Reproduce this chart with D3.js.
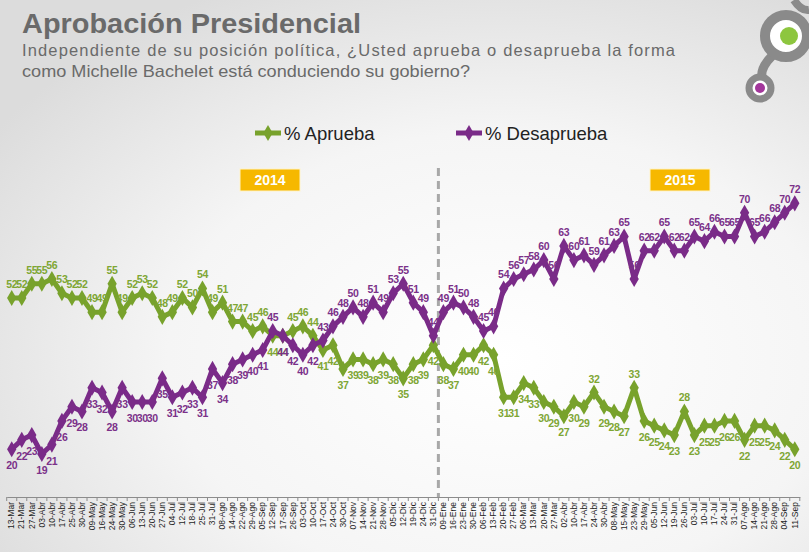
<!DOCTYPE html>
<html><head><meta charset="utf-8">
<script src="https://cdn.jsdelivr.net/npm/d3@7"></script>
<style>html,body{margin:0;padding:0;}svg{display:block;}</style>
</head><body>
<svg id="c" width="809" height="552"></svg>
<script>
const dates2014 = ["13-Mar","21-Mar","27-Mar","03-Abr","10-Abr","17-Abr","25-Abr","30-Abr","09-May","16-May","24-May","30-May","06-Jun","13-Jun","20-Jun","27-Jun","04-Jul","12-Jul","18-Jul","25-Jul","31-Jul","08-Ago","14-Ago","22-Ago","29-Ago","05-Sep","12-Sep","17-Sep","26-Sep","03-Oct","10-Oct","17-Oct","24-Oct","30-Oct","07-Nov","14-Nov","21-Nov","28-Nov","05-Dic","12-Dic","19-Dic","24-Dic","31-Dic"];
const dates2015 = ["09-Ene","16-Ene","23-Ene","30-Ene","06-Feb","13-Feb","20-Feb","27-Feb","06-Mar","13-Mar","20-Mar","27-Mar","02-Abr","10-Abr","17-Abr","24-Abr","30-Abr","08-May","15-May","23-May","29-May","05-Jun","12-Jun","19-Jun","26-Jun","03-Jul","10-Jul","17-Jul","24-Jul","31-Jul","07-Ago","14-Ago","21-Ago","28-Ago","04-Sep","11-Sep"];
const aprueba2014 = [52,52,55,55,56,53,52,52,49,49,55,49,52,53,52,48,49,52,50,54,49,51,47,47,45,46,44,44,45,46,44,41,42,37,39,39,38,39,38,35,38,39,42];
const aprueba2015 = [38,37,40,40,42,40,31,31,34,33,30,29,27,30,29,32,29,28,27,33,26,25,24,23,28,23,25,25,26,26,22,25,25,24,22,20];
const desaprueba2014 = [20,22,23,19,21,26,29,28,33,32,28,33,30,30,30,35,31,32,33,31,37,34,38,39,40,41,45,44,42,40,42,43,46,48,50,48,51,49,53,55,51,49,44];
const desaprueba2015 = [49,51,50,48,45,46,54,56,57,58,60,56,63,60,61,59,61,63,65,56,62,62,65,62,62,65,64,66,65,65,70,65,66,68,70,72];
const seriesNames = ["% Aprueba","% Desaprueba"];
const years = ["2014","2015"];

const categories = dates2014.concat(dates2015);
const aprueba = aprueba2014.concat(aprueba2015);
const desaprueba = desaprueba2014.concat(desaprueba2015);
const idx = categories.map((d,i)=>i);

const GREEN = "#78a22c", PURPLE = "#7a2b88";
const FONT = "Liberation Sans, Arial, sans-serif";
const svg = d3.select("#c");

// background
const defs = svg.append("defs");
const rg = defs.append("radialGradient").attr("id","bg").attr("cx","62%").attr("cy","65%").attr("r","75%");
rg.append("stop").attr("offset","0%").attr("stop-color","#ffffff");
rg.append("stop").attr("offset","55%").attr("stop-color","#f5f5f5");
rg.append("stop").attr("offset","100%").attr("stop-color","#dcdcdc");
svg.append("rect").attr("width",809).attr("height",552).attr("fill","url(#bg)");

// title
svg.append("text").attr("x",22).attr("y",33).text("Aprobación Presidencial")
  .attr("font-family",FONT).attr("font-weight","bold")
  .attr("font-size",28).attr("fill","#6a6a6a").attr("textLength",339).attr("lengthAdjust","spacingAndGlyphs");
svg.append("text").attr("x",22).attr("y",56).text("Independiente de su posición política, ¿Usted aprueba o desaprueba la forma")
  .attr("font-family",FONT).attr("font-size",16.5).attr("fill","#6a6a6a")
  .attr("textLength",653).attr("lengthAdjust","spacing");
svg.append("text").attr("x",22).attr("y",77).text("como Michelle Bachelet está conduciendo su gobierno?")
  .attr("font-family",FONT).attr("font-size",16.5).attr("fill","#6a6a6a")
  .attr("textLength",448).attr("lengthAdjust","spacingAndGlyphs");

// logo
const logo = svg.append("g");
logo.append("path").attr("d","M 772 56 Q 760 68 762 78").attr("fill","none").attr("stroke","#8a8a8a").attr("stroke-width",9);
logo.append("circle").attr("cx",786).attr("cy",36).attr("r",21).attr("fill","#fff").attr("stroke","#8a8a8a").attr("stroke-width",10);
logo.append("circle").attr("cx",789).attr("cy",36).attr("r",9).attr("fill","#8dc63f");
logo.append("circle").attr("cx",760).attr("cy",88).attr("r",11).attr("fill","#fff").attr("stroke","#8a8a8a").attr("stroke-width",7);
logo.append("circle").attr("cx",760).attr("cy",88).attr("r",5).attr("fill","#a3379b");
logo.append("path").attr("d","M 794 0 Q 801 11 809 10").attr("fill","none").attr("stroke","#8a8a8a").attr("stroke-width",8);

// scales
const x = d3.scaleBand().domain(idx).range([6.7, 799.8]).padding(0);
const y = d3.scaleLinear().domain([10,80]).range([496.6,165.5]);
const cx = i => x(i) + x.bandwidth()/2;

// x axis
const ax = svg.append("g").attr("transform","translate(0,497)")
  .call(d3.axisBottom(x).tickSize(0).tickFormat(i=>categories[i]));
ax.select(".domain").attr("stroke","#8c8c8c").attr("stroke-width",1);
ax.selectAll(".tick text").attr("transform","rotate(-90)").attr("text-anchor","end")
  .attr("x",-5).attr("y",0).attr("dy","0.32em")
  .attr("font-family",FONT).attr("font-size",8.5).attr("fill","#1e1e1e");
// ticks at band edges
svg.append("g").selectAll("line").data(d3.range(categories.length+1)).join("line")
  .attr("x1",i=>6.7+i*x.bandwidth()).attr("x2",i=>6.7+i*x.bandwidth())
  .attr("y1",497).attr("y2",501).attr("stroke","#8c8c8c").attr("stroke-width",1);

// dashed separator
const sepX = x(dates2014.length);
svg.append("line").attr("x1",sepX).attr("x2",sepX).attr("y1",168).attr("y2",497)
  .attr("stroke","#a8a8a8").attr("stroke-width",3).attr("stroke-dasharray","8,5");

// year boxes
const yearCenters = [270, 680];
years.forEach((yr,k)=>{
  svg.append("rect").attr("x",yearCenters[k]-30).attr("y",169).attr("width",60).attr("height",22)
    .attr("fill","#f6b800").attr("stroke","#fff3c8").attr("stroke-width",1);
  svg.append("text").attr("x",yearCenters[k]).attr("y",185).attr("text-anchor","middle").text(yr)
    .attr("font-family",FONT).attr("font-weight","bold").attr("font-size",14).attr("fill","#fff");
});

// legend
const diamond = d3.symbol().type(d3.symbolDiamond).size(75);
const legend = [{name:seriesNames[0],color:GREEN,x:255},{name:seriesNames[1],color:PURPLE,x:456}];
legend.forEach(l=>{
  svg.append("line").attr("x1",l.x).attr("x2",l.x+26).attr("y1",133).attr("y2",133).attr("stroke",l.color).attr("stroke-width",5);
  svg.append("path").attr("d",diamond).attr("transform",`translate(${l.x+13},133)`).attr("fill",l.color);
  svg.append("text").attr("x",l.x+29).attr("y",140).text(l.name)
    .attr("font-family",FONT).attr("font-size",18.5).attr("fill","#222");
});

// series
const series = [
  {vals:aprueba,other:desaprueba,color:GREEN,lab:"#7ea634",flipPeaks:true},
  {vals:desaprueba,other:aprueba,color:PURPLE,lab:"#7b3189",flipPeaks:false}
];
const line = d3.line().x((v,i)=>cx(i)).y(v=>y(v));
series.forEach(s=>{
  svg.append("path").datum(s.vals).attr("d",line).attr("fill","none").attr("stroke",s.color)
    .attr("stroke-width",5).attr("stroke-linejoin","round");
  svg.append("g").selectAll("path").data(s.vals).join("path").attr("d",diamond)
    .attr("transform",(v,i)=>`translate(${cx(i)},${y(v)})`).attr("fill",s.color);
});
function above(s, v, i){
  const upper = v > s.other[i];
  if (upper) return true;
  if (s.flipPeaks && i > 0 && i < s.vals.length-1 && s.other[i] - v >= 8) {
    const prom = Math.min(v - s.vals[i-1], v - s.vals[i+1]);
    if (prom >= 3) return true;
  }
  return false;
}
series.forEach(s=>{
  svg.append("g").selectAll("text").data(s.vals).join("text")
    .attr("x",(v,i)=>cx(i)).attr("y",(v,i)=> above(s,v,i) ? y(v)-10 : y(v)+20)
    .attr("text-anchor","middle").text(v=>v)
    .attr("font-family",FONT).attr("font-weight","bold").attr("font-size",10.5)
    .attr("letter-spacing",-0.3).attr("fill",s.lab);
});
</script>
</body></html>
